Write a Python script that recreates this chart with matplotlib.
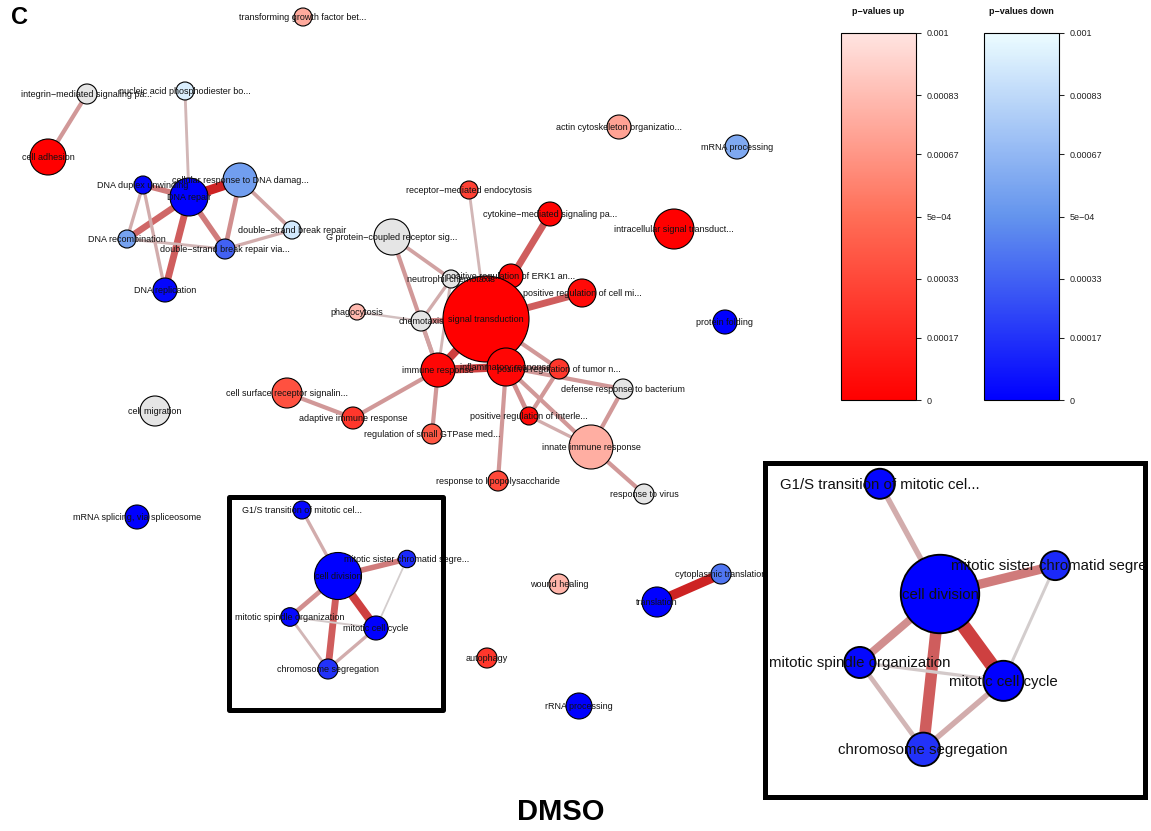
import numpy as np
import matplotlib
matplotlib.use("Agg")
import matplotlib.pyplot as plt
from matplotlib.patches import Circle, Rectangle
from matplotlib.colors import LinearSegmentedColormap, Normalize, to_rgb
from matplotlib.cm import ScalarMappable

plt.rcParams['font.family'] = ['Liberation Sans', 'DejaVu Sans']

# ---------------- data ----------------
labels = [
    "transforming growth factor bet...", "integrin\u2212mediated signaling pa...",
    "nucleic acid phosphodiester bo...", "cell adhesion", "DNA duplex unwinding",
    "DNA repair", "cellular response to DNA damag...", "double\u2212strand break repair",
    "DNA recombination", "double\u2212strand break repair via...", "DNA replication",
    "G protein\u2212coupled receptor sig...", "phagocytosis", "receptor\u2212mediated endocytosis",
    "cytokine\u2212mediated signaling pa...", "intracellular signal transduct...",
    "neutrophil chemotaxis", "positive regulation of ERK1 an...",
    "positive regulation of cell mi...", "chemotaxis", "signal transduction",
    "immune response", "inflammatory response", "positive regulation of tumor n...",
    "defense response to bacterium", "positive regulation of interle...",
    "cell surface receptor signalin...", "adaptive immune response",
    "regulation of small GTPase med...", "innate immune response",
    "response to lipopolysaccharide", "response to virus", "cell migration",
    "mRNA splicing, via spliceosome", "actin cytoskeleton organizatio...",
    "mRNA processing", "protein folding", "wound healing", "translation",
    "cytoplasmic translation", "autophagy", "rRNA processing",
    "G1/S transition of mitotic cel...", "cell division",
    "mitotic sister chromatid segre...", "mitotic spindle organization",
    "mitotic cell cycle", "chromosome segregation",
]
node_x = [303, 87, 185, 48, 143, 189, 240, 292, 127, 225, 165, 392, 357, 469, 550, 674,
          451, 511, 582, 421, 486, 438, 506, 559, 623, 529, 287, 353, 432, 591, 498, 644,
          155, 137, 619, 737, 725, 559, 657, 721, 487, 579, 302, 338, 407, 290, 376, 328]
node_y = [17, 94, 91, 157, 185, 197, 180, 230, 239, 249, 290, 237, 312, 190, 214, 229,
          279, 276, 293, 321, 319, 370, 367, 369, 389, 416, 393, 418, 434, 447, 481, 494,
          411, 517, 127, 147, 322, 584, 602, 574, 658, 706, 510, 576, 559, 617, 628, 669]
node_size = [9, 10, 9, 18, 9, 19, 17, 9, 9, 10, 12, 18, 8, 9, 12, 20,
             9, 12, 14, 10, 43, 17, 19, 10, 10, 9, 15, 11, 10, 22, 10, 10,
             15, 12, 12, 12, 12, 10, 15, 10, 10, 13, 9, 23.5, 8.7, 9.3, 12, 10]
direction = ["up", "none", "down", "up", "down", "down", "down", "down",
             "down", "down", "down", "none", "up", "up", "up", "up",
             "none", "up", "up", "none", "up", "up", "up", "up",
             "none", "up", "up", "up", "up", "up", "up", "none",
             "none", "down", "up", "down", "down", "up", "down", "down",
             "up", "down", "down", "down", "down", "down", "down", "down"]
pvalue = [0.00075, 0, 0.00093, 0.0, 0.00002, 0.0, 0.00055, 0.0009,
          0.00057, 0.00033, 0.00002, 0, 0.00082, 0.0003, 0.00002, 0.0,
          0, 0.00003, 0.00005, 0, 0.0, 0.00003, 0.00003, 0.00025,
          0, 0.00005, 0.00037, 0.00025, 0.0004, 0.00077, 0.00033, 0,
          0, 0.0, 0.00072, 0.0006, 0.0, 0.0008, 0.0, 0.0004,
          0.00025, 0.0, 0.00002, 0.0, 0.00014, 0.00003, 0.0, 0.00017]

edge_from = [
    "integrin\u2212mediated signaling pa...", "nucleic acid phosphodiester bo...", "DNA repair",
    "DNA duplex unwinding", "DNA repair", "DNA repair", "DNA repair",
    "cellular response to DNA damag...", "cellular response to DNA damag...",
    "double\u2212strand break repair via...", "DNA recombination", "DNA duplex unwinding",
    "DNA duplex unwinding",
    "G protein\u2212coupled receptor sig...", "G protein\u2212coupled receptor sig...",
    "receptor\u2212mediated endocytosis", "cytokine\u2212mediated signaling pa...",
    "positive regulation of cell mi...", "neutrophil chemotaxis", "neutrophil chemotaxis",
    "neutrophil chemotaxis", "phagocytosis", "chemotaxis", "chemotaxis",
    "signal transduction", "immune response", "signal transduction", "signal transduction",
    "inflammatory response", "inflammatory response", "inflammatory response",
    "positive regulation of tumor n...", "inflammatory response",
    "positive regulation of interle...", "defense response to bacterium",
    "innate immune response", "inflammatory response", "immune response",
    "immune response", "adaptive immune response",
    "translation",
    "G1/S transition of mitotic cel...", "cell division", "cell division", "cell division",
    "cell division", "mitotic sister chromatid segre...", "mitotic spindle organization",
    "mitotic spindle organization", "mitotic cell cycle",
]
edge_to = [
    "cell adhesion", "DNA repair", "cellular response to DNA damag...",
    "DNA repair", "DNA recombination", "DNA replication", "double\u2212strand break repair via...",
    "double\u2212strand break repair via...", "double\u2212strand break repair",
    "double\u2212strand break repair", "double\u2212strand break repair via...", "DNA recombination",
    "DNA replication",
    "immune response", "neutrophil chemotaxis",
    "signal transduction", "signal transduction",
    "signal transduction", "chemotaxis", "immune response",
    "signal transduction", "chemotaxis", "signal transduction", "immune response",
    "immune response", "inflammatory response", "inflammatory response",
    "positive regulation of tumor n...",
    "positive regulation of tumor n...", "defense response to bacterium",
    "positive regulation of interle...",
    "positive regulation of interle...", "innate immune response",
    "innate immune response", "innate immune response",
    "response to virus", "response to lipopolysaccharide", "regulation of small GTPase med...",
    "adaptive immune response", "cell surface receptor signalin...",
    "cytoplasmic translation",
    "cell division", "mitotic sister chromatid segre...", "mitotic spindle organization",
    "mitotic cell cycle", "chromosome segregation", "mitotic cell cycle",
    "mitotic cell cycle", "chromosome segregation", "chromosome segregation",
]
edge_sim = [0.3, 0.15, 0.9, 0.45, 0.55, 0.6, 0.45, 0.35, 0.25, 0.2, 0.15, 0.2, 0.2,
            0.3, 0.25, 0.15, 0.6, 0.6, 0.2, 0.15, 0.15, 0.1, 0.4, 0.25,
            0.75, 0.75, 0.5, 0.3, 0.3, 0.3, 0.35, 0.3, 0.3, 0.2, 0.3, 0.3, 0.3, 0.3, 0.3, 0.3,
            0.9,
            0.2, 0.45, 0.35, 0.75, 0.6, 0.03, 0.05, 0.15, 0.2]

bar_ticks = [0, 0.00017, 0.00033, 0.0005, 0.00067, 0.00083, 0.001]
bar_ticklabels = ["0", "0.00017", "0.00033", "5e\u221204", "0.00067", "0.00083", "0.001"]

# ---------------- figure ----------------
W, H = 1151, 831
fig = plt.figure(figsize=(W / 100, H / 100), dpi=100)
ax = fig.add_axes([0, 0, 1, 1])
ax.set_xlim(0, W)
ax.set_ylim(H, 0)
ax.axis('off')

cmap_up = LinearSegmentedColormap.from_list(
    'up', [(1, 0, 0), (1, 0.43, 0.34), (1, 0.894, 0.882)])
cmap_down = LinearSegmentedColormap.from_list(
    'down', [(0, 0, 1), (0.39, 0.58, 0.93), (0.925, 0.988, 1)])
norm = Normalize(0, 0.001)

idx = {lab: k for k, lab in enumerate(labels)}
PT = 0.72  # points per pixel
light = np.array(to_rgb('#D3D3D3'))
dark = np.array(to_rgb('#CC0F0F'))


def node_color(d, p):
    if d == 'up':
        return cmap_up(norm(p))
    if d == 'down':
        return cmap_down(norm(p))
    return '#E5E5E5'


def draw_network(a, scale, keep=None):
    keep = set(range(len(labels))) if keep is None else keep
    for u, v, w in zip(edge_from, edge_to, edge_sim):
        i, j = idx[u], idx[v]
        if i not in keep or j not in keep:
            continue
        c = light + (dark - light) * w
        a.plot([node_x[i], node_x[j]], [node_y[i], node_y[j]], color=c,
               lw=(1.5 + 9 * w) * PT * scale, solid_capstyle='butt', zorder=1)
    for k in sorted(keep):
        a.add_patch(Circle((node_x[k], node_y[k]), node_size[k],
                           fc=node_color(direction[k], pvalue[k]), ec='black',
                           lw=0.8 * scale, zorder=2))
    for k in sorted(keep):
        a.text(node_x[k], node_y[k] + 0.5, labels[k], fontsize=6.5 * scale,
               ha='center', va='center', color='#111111', zorder=3, clip_on=True)


draw_network(ax, 1.0)

# small highlight box
ax.add_patch(Rectangle((229, 497), 214, 213, fill=False, ec='black',
                       lw=5 * PT, joinstyle='round', zorder=4))

# zoomed inset
s = 1.67
il, ir, it, ib = 765, 1145, 463, 797
x_lo, x_hi = 338 + (il - 940) / s, 338 + (ir - 940) / s
y_lo, y_hi = 576 + (it - 594) / s, 576 + (ib - 594) / s
ins = fig.add_axes([il / W, 1 - ib / H, (ir - il) / W, (ib - it) / H])
ins.set_xlim(x_lo, x_hi)
ins.set_ylim(y_hi, y_lo)
ins.set_xticks([])
ins.set_yticks([])
for sp in ins.spines.values():
    sp.set_linewidth(5 * PT)
    sp.set_color('black')
inside = {k for k in range(len(labels))
          if x_lo < node_x[k] < x_hi and y_lo < node_y[k] < y_hi}
draw_network(ins, s, inside)

# colour bars
for cm, x0, title in [(cmap_up, 841, "p\u2212values up"), (cmap_down, 984, "p\u2212values down")]:
    cax = fig.add_axes([x0 / W, 1 - 400 / H, 75 / W, 367 / H])
    cb = fig.colorbar(ScalarMappable(norm=norm, cmap=cm), cax=cax, ticks=bar_ticks)
    cb.ax.set_yticklabels(bar_ticklabels)
    cb.ax.tick_params(labelsize=6.5, length=5 * PT, width=0.75, pad=4,
                      colors='#222222')
    cb.outline.set_linewidth(0.8)
    fig.text((x0 + 37.5) / W, 1 - 11 / H, title, fontsize=6.5, fontweight='bold',
             ha='center', va='center', color='#111111')

fig.text(20 / W, 1 - 18 / H, "C", fontsize=17, fontweight='bold', ha='center', va='center')
fig.text(561 / W, 1 - 812 / H, "DMSO", fontsize=21, fontweight='bold', ha='center', va='center')

fig.savefig("out.png", dpi=100)
